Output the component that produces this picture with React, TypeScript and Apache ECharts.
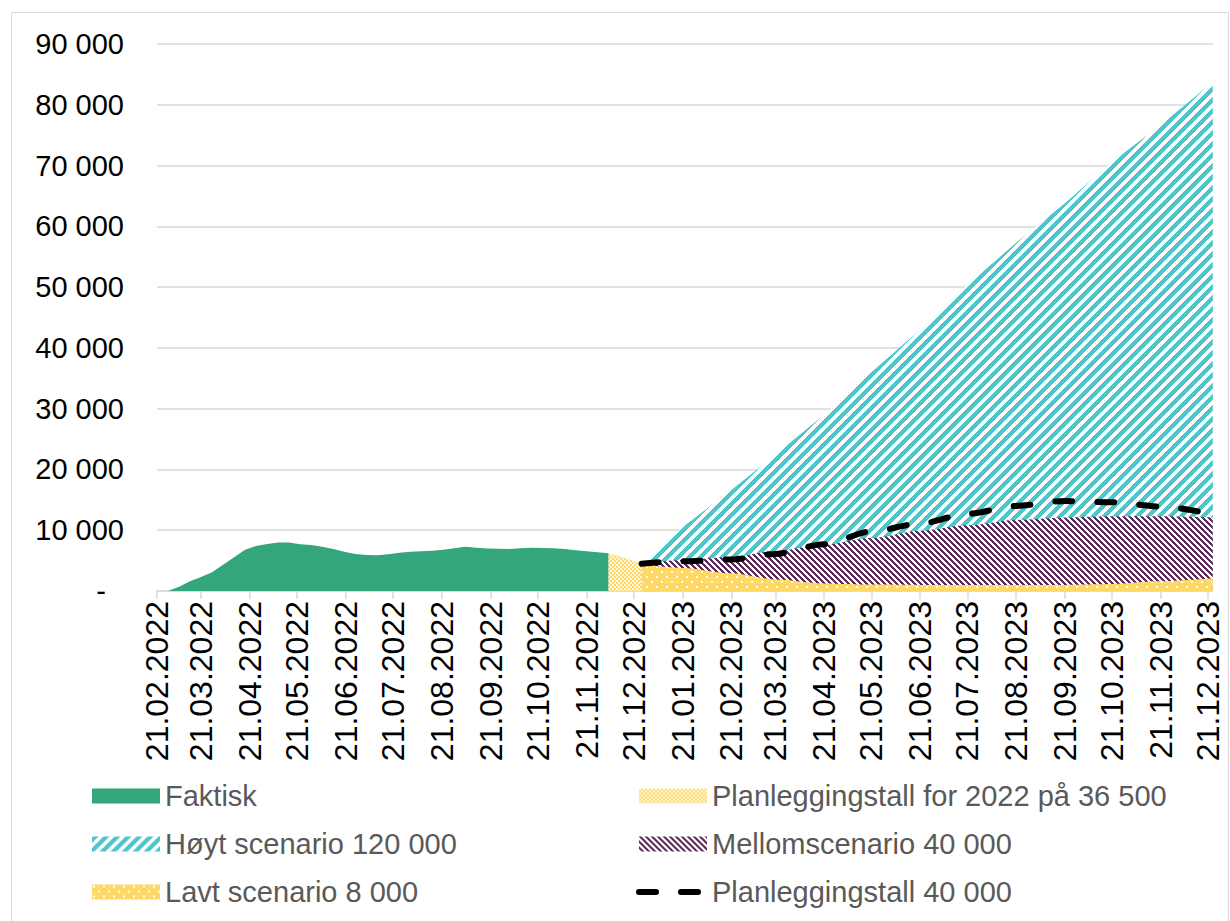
import React, { useEffect, useRef } from 'react';
import * as echarts from 'echarts';

// ---------- DATA ----------
const tickDates = [
  '2022-02-21', '2022-03-21', '2022-04-21', '2022-05-21', '2022-06-21', '2022-07-21',
  '2022-08-21', '2022-09-21', '2022-10-21', '2022-11-21', '2022-12-21', '2023-01-21',
  '2023-02-21', '2023-03-21', '2023-04-21', '2023-05-21', '2023-06-21', '2023-07-21',
  '2023-08-21', '2023-09-21', '2023-10-21', '2023-11-21', '2023-12-21',
];
const axisStart = '2022-02-21';
const axisEnd = '2023-12-24';
const yMin = 0;
const yMax = 90000;
const yStep = 10000;

const faktisk: [string, number][] = [
  ['2022-02-28', 0], ['2022-03-07', 700], ['2022-03-14', 1600], ['2022-03-21', 2300],
  ['2022-03-28', 3100], ['2022-04-04', 4300], ['2022-04-11', 5550], ['2022-04-18', 6800],
  ['2022-04-25', 7400], ['2022-05-02', 7750], ['2022-05-09', 7980], ['2022-05-16', 8000],
  ['2022-05-23', 7700], ['2022-05-30', 7580], ['2022-06-06', 7300], ['2022-06-13', 6900],
  ['2022-06-20', 6450], ['2022-06-27', 6100], ['2022-07-04', 5920], ['2022-07-11', 5870],
  ['2022-07-18', 6050], ['2022-07-25', 6280], ['2022-08-01', 6450], ['2022-08-08', 6560],
  ['2022-08-15', 6620], ['2022-08-22', 6800], ['2022-08-29', 7050], ['2022-09-05', 7290],
  ['2022-09-12', 7100], ['2022-09-19', 7000], ['2022-09-26', 6960], ['2022-10-03', 6920],
  ['2022-10-10', 7050], ['2022-10-17', 7130], ['2022-10-24', 7080], ['2022-10-31', 7030],
  ['2022-11-07', 6900], ['2022-11-14', 6700], ['2022-11-21', 6550], ['2022-11-28', 6380],
  ['2022-12-05', 6200],
];

const plan2022: [string, number][] = [
  ['2022-12-05', 6200], ['2022-12-12', 5700], ['2022-12-19', 5100], ['2022-12-26', 4500],
];

const scenarioDates = [
  '2022-12-26', '2023-01-21', '2023-02-21', '2023-03-21', '2023-04-21', '2023-05-21',
  '2023-06-21', '2023-07-21', '2023-08-21', '2023-09-21', '2023-10-21', '2023-11-21',
  '2023-12-24',
];
const hoyt = [4500, 10500, 16600, 22400, 29000, 36000, 43000, 50300, 57300, 63800, 70600, 76700, 83700];
const mellom = [4500, 5100, 5600, 6600, 7600, 8700, 9900, 10800, 11700, 12100, 12300, 12300, 12100];
const lavt = [4300, 3800, 2900, 1900, 1250, 1050, 1000, 1000, 1000, 1000, 1150, 1600, 2100];
const plan40000 = [4500, 4900, 5200, 6100, 7700, 9800, 11100, 12700, 14000, 14800, 14600, 13900, 12600];

const names = {
  faktisk: 'Faktisk',
  plan2022: 'Planleggingstall for 2022 på 36 500',
  hoyt: 'Høyt scenario 120 000',
  mellom: 'Mellomscenario 40 000',
  lavt: 'Lavt scenario 8 000',
  plan40000: 'Planleggingstall 40 000',
};

// ---------- STYLE ----------
const GREEN = '#33A67B';
const TEAL: [number, number, number] = [79, 198, 203];
const PURPLE: [number, number, number] = [94, 43, 92];
const YELLOW: [number, number, number] = [255, 217, 102];
const WHITE: [number, number, number] = [255, 255, 255];
const LIGHTY: [number, number, number] = [255, 246, 220];
const FONT = '"Liberation Sans", Arial, sans-serif';

function ts(s: string): number {
  const [y, m, d] = s.split('-').map(Number);
  return Date.UTC(y, m - 1, d);
}

function fmtDate(v: number): string {
  const d = new Date(Math.round(v));
  const dd = String(d.getUTCDate()).padStart(2, '0');
  const mm = String(d.getUTCMonth() + 1).padStart(2, '0');
  return `${dd}.${mm}.${d.getUTCFullYear()}`;
}

function fmtNum(v: number): string {
  return String(Math.round(v)).replace(/\B(?=(\d{3})+(?!\d))/g, ' ');
}

// pixel-exact tileable pattern
function makePattern(size: number, pick: (x: number, y: number) => [number, number, number]): any {
  const c = document.createElement('canvas');
  c.width = size;
  c.height = size;
  const ctx = c.getContext('2d')!;
  const img = ctx.createImageData(size, size);
  for (let y = 0; y < size; y++) {
    for (let x = 0; x < size; x++) {
      const [r, g, b] = pick(x, y);
      const i = (y * size + x) * 4;
      img.data[i] = r;
      img.data[i + 1] = g;
      img.data[i + 2] = b;
      img.data[i + 3] = 255;
    }
  }
  ctx.putImageData(img, 0, 0);
  return { image: c.toDataURL(), repeat: 'repeat', imageWidth: size, imageHeight: size };
}

export default function App() {
  const ref = useRef<HTMLDivElement>(null);

  useEffect(() => {
    if (!ref.current) return;
    const chart = echarts.init(ref.current, undefined, { renderer: 'svg' });

    // "/" stripes
    const tealPat = makePattern(11, (x, y) => ((x + y) % 11 < 6 ? TEAL : WHITE));
    // "\" stripes
    const purplePat = makePattern(6, (x, y) => (((x - y) % 6 + 6) % 6 < 3 ? PURPLE : WHITE));
    const dotPat = makePattern(10, (x, y) =>
      (x >= 1 && x <= 2 && y >= 1 && y <= 2) || (x >= 6 && x <= 7 && y >= 6 && y <= 7) ? WHITE : YELLOW,
    );
    const checkPat = makePattern(4, (x, y) => ((Math.floor(x / 2) + Math.floor(y / 2)) % 2 === 0 ? LIGHTY : YELLOW));

    const areaSeries = (name: string, data: any[], fill: any, smooth: number | boolean) => ({
      name,
      type: 'line',
      data,
      symbol: 'none',
      smooth,
      smoothMonotone: 'x',
      lineStyle: { width: 0, opacity: 0 },
      itemStyle: { color: fill },
      areaStyle: { color: fill, opacity: 1 },
      clip: true,
      silent: true,
    });

    const scen = (vals: number[]) => scenarioDates.map((d, i) => [ts(d), vals[i]]);

    const legendCommon = {
      orient: 'vertical',
      top: 781,
      padding: 0,
      itemWidth: 68,
      itemHeight: 15,
      itemGap: 18,
      selectedMode: false,
      textStyle: { fontFamily: FONT, fontSize: 29, lineHeight: 30, color: '#595959' },
    };

    const tickVals = tickDates.map(ts);

    const option: any = {
      animation: false,
      backgroundColor: '#ffffff',
      textStyle: { fontFamily: FONT },
      grid: {
        left: 157,
        top: 44,
        width: 1055.8,
        height: 547,
        containLabel: false,
      },
      graphic: [
        {
          type: 'rect',
          silent: true,
          shape: { x: 11.5, y: 12.5, width: 1217, height: 1000 },
          style: { fill: 'none', stroke: '#d9d9d9', lineWidth: 1 },
        },
      ],
      legend: [
        {
          ...legendCommon,
          left: 92,
          data: [
            { name: names.faktisk, icon: 'rect', itemStyle: { color: GREEN } },
            { name: names.hoyt, icon: 'rect', itemStyle: { color: tealPat } },
            { name: names.lavt, icon: 'rect', itemStyle: { color: dotPat } },
          ],
        },
        {
          ...legendCommon,
          left: 636,
          data: [
            { name: names.plan2022, icon: 'rect', itemStyle: { color: checkPat } },
            { name: names.mellom, icon: 'rect', itemStyle: { color: purplePat } },
            {
              name: names.plan40000,
              itemStyle: { color: 'rgba(0,0,0,0)', opacity: 0, borderWidth: 0 },
              lineStyle: { width: 6, color: '#000', type: [17, 25], cap: 'round' },
            },
          ],
        },
      ],
      xAxis: {
        type: 'value',
        min: ts(axisStart),
        max: ts(axisEnd),
        axisLine: { show: true, lineStyle: { color: '#d9d9d9', width: 1.5 } },
        axisTick: {
          show: true,
          customValues: tickVals,
          length: 8,
          lineStyle: { color: '#d9d9d9', width: 1.5 },
        },
        axisLabel: {
          customValues: tickVals,
          rotate: 90,
          margin: 10,
          fontFamily: FONT,
          fontSize: 32,
          color: '#000000',
          formatter: (v: number) => fmtDate(v),
        },
        splitLine: { show: false },
      },
      yAxis: {
        type: 'value',
        min: yMin,
        max: yMax,
        interval: yStep,
        axisLine: { show: false },
        axisTick: { show: false },
        splitLine: { show: true, lineStyle: { color: '#d9d9d9', width: 1.5 } },
        axisLabel: {
          margin: 33,
          fontFamily: FONT,
          fontSize: 29,
          color: '#000000',
          formatter: (v: number) => (v === 0 ? '{z|-}' : fmtNum(v)),
          rich: { z: { fontFamily: FONT, fontSize: 29, color: '#000000', padding: [0, 18, 0, 0] } },
        },
      },
      series: [
        areaSeries(names.hoyt, scen(hoyt), tealPat, false),
        areaSeries(names.mellom, scen(mellom), purplePat, 0.3),
        areaSeries(names.lavt, scen(lavt), dotPat, 0.3),
        areaSeries(names.faktisk, faktisk.map(([d, v]) => [ts(d), v]), GREEN, false),
        areaSeries(names.plan2022, plan2022.map(([d, v]) => [ts(d), v]), checkPat, false),
        {
          name: names.plan40000,
          type: 'line',
          data: scen(plan40000),
          symbol: 'none',
          smooth: 0.3,
          smoothMonotone: 'x',
          itemStyle: { color: '#000000' },
          lineStyle: { color: '#000000', width: 6, type: [17, 25], cap: 'round' },
          silent: true,
          z: 5,
        },
      ],
    };

    chart.setOption(option);
    return () => chart.dispose();
  }, []);

  return (
    <div
      ref={ref}
      style={{ position: 'absolute', left: 0, top: 0, width: 1230, height: 921, background: '#fff' }}
    />
  );
}
